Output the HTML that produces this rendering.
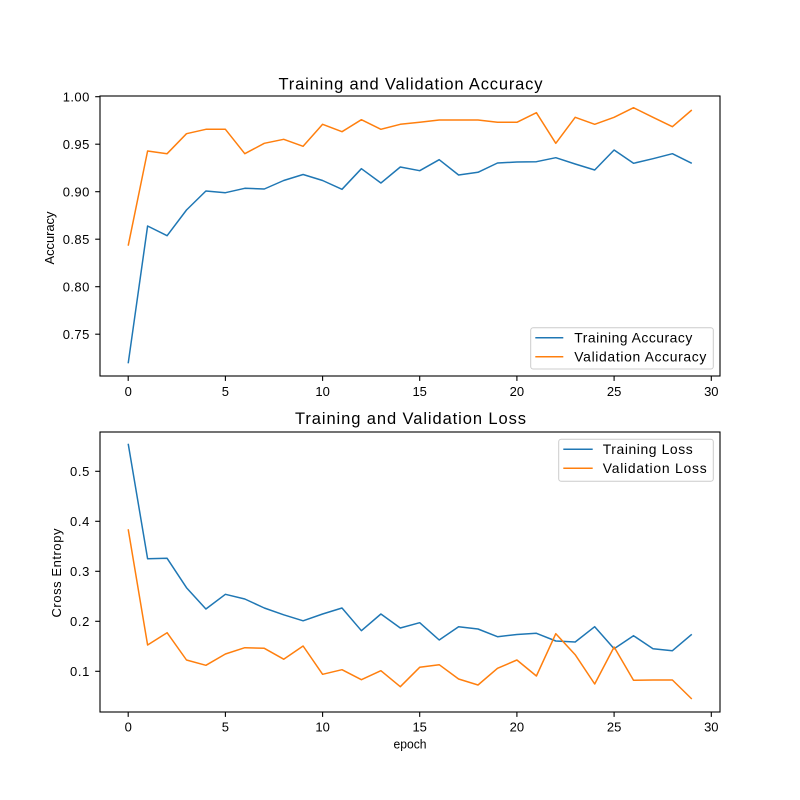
<!DOCTYPE html>
<html><head><meta charset="utf-8"><style>
html,body{margin:0;padding:0;background:#fff}
svg{display:block}
text{font-family:"Liberation Sans","WenQuanYi Zen Hei",sans-serif;fill:#000}
</style></head><body>
<svg width="800" height="800" viewBox="0 0 800 800" xmlns="http://www.w3.org/2000/svg">
<rect width="800" height="800" fill="#fff"/>

<!-- ===== Top axes ===== -->
<text x="410.5" y="89.3" font-size="16.5" text-anchor="middle" textLength="264" lengthAdjust="spacing">Training and Validation Accuracy</text>

<polyline fill="none" stroke="#1f77b4" stroke-width="1.5" stroke-linejoin="round" points="128.2,363.3 147.6,226 167.1,235.7 186.5,210 205.9,191 225.4,192.7 244.8,188.3 264.3,189 283.7,180.5 303.1,174.5 322.6,180.5 342.0,189.3 361.4,168.7 380.9,183 400.3,167 419.7,170.7 439.2,159.7 458.6,175 478.0,172.3 497.5,163 516.9,162 536.4,161.7 555.8,157.7 575.2,164 594.7,170 614.1,150 633.5,163.3 653.0,158.7 672.4,153.7 691.8,163.3"/>
<polyline fill="none" stroke="#ff7f0e" stroke-width="1.5" stroke-linejoin="round" points="128.2,245.7 147.6,151 167.1,153.7 186.5,133.7 205.9,129.3 225.4,129.3 244.8,153.7 264.3,143.3 283.7,139.3 303.1,146.3 322.6,124.3 342.0,131.7 361.4,119.7 380.9,129.3 400.3,124.3 419.7,122.3 439.2,120 458.6,120 478.0,120 497.5,122.3 516.9,122.3 536.4,112.7 555.8,143.3 575.2,117.3 594.7,124.3 614.1,117.3 633.5,107.7 653.0,117.3 672.4,126.7 691.8,110"/>

<rect x="100" y="96" width="620" height="280" fill="none" stroke="#000" stroke-width="1.1"/>

<!-- y ticks top -->
<g stroke="#000" stroke-width="1.1">
<line x1="95.2" y1="96.7" x2="100" y2="96.7"/>
<line x1="95.2" y1="144.2" x2="100" y2="144.2"/>
<line x1="95.2" y1="191.7" x2="100" y2="191.7"/>
<line x1="95.2" y1="239.2" x2="100" y2="239.2"/>
<line x1="95.2" y1="286.7" x2="100" y2="286.7"/>
<line x1="95.2" y1="334.2" x2="100" y2="334.2"/>
</g>
<g font-size="13" text-anchor="end">
<text x="89.3" y="101.5" textLength="26.6" lengthAdjust="spacing">1.00</text>
<text x="89.3" y="149" textLength="26.6" lengthAdjust="spacing">0.95</text>
<text x="89.3" y="196.5" textLength="26.6" lengthAdjust="spacing">0.90</text>
<text x="89.3" y="244" textLength="26.6" lengthAdjust="spacing">0.85</text>
<text x="89.3" y="291.5" textLength="26.6" lengthAdjust="spacing">0.80</text>
<text x="89.3" y="339" textLength="26.6" lengthAdjust="spacing">0.75</text>
</g>
<text transform="translate(54,238) rotate(-90)" font-size="13" text-anchor="middle" textLength="53" lengthAdjust="spacing">Accuracy</text>

<!-- x ticks top -->
<g stroke="#000" stroke-width="1.1">
<line x1="128.2" y1="376" x2="128.2" y2="380.9"/>
<line x1="225.4" y1="376" x2="225.4" y2="380.9"/>
<line x1="322.6" y1="376" x2="322.6" y2="380.9"/>
<line x1="419.7" y1="376" x2="419.7" y2="380.9"/>
<line x1="516.9" y1="376" x2="516.9" y2="380.9"/>
<line x1="614.1" y1="376" x2="614.1" y2="380.9"/>
<line x1="711.3" y1="376" x2="711.3" y2="380.9"/>
</g>
<g font-size="13" text-anchor="middle">
<text x="128.2" y="396">0</text>
<text x="225.4" y="396">5</text>
<text x="322.6" y="396">10</text>
<text x="419.7" y="396">15</text>
<text x="516.9" y="396">20</text>
<text x="614.1" y="396">25</text>
<text x="711.3" y="396">30</text>
</g>

<!-- legend top -->
<rect x="530.7" y="327.7" width="182.6" height="41.3" rx="2.5" ry="2.5" fill="#fff" fill-opacity="0.8" stroke="#cccccc" stroke-width="1"/>
<line x1="535.3" y1="337.7" x2="563.3" y2="337.7" stroke="#1f77b4" stroke-width="1.5"/>
<line x1="535.3" y1="356.7" x2="563.3" y2="356.7" stroke="#ff7f0e" stroke-width="1.5"/>
<g font-size="13.9">
<text x="574.3" y="342.5" textLength="118" lengthAdjust="spacing">Training Accuracy</text>
<text x="574.3" y="361.5" textLength="132" lengthAdjust="spacing">Validation Accuracy</text>
</g>

<!-- ===== Bottom axes ===== -->
<text x="410.5" y="424" font-size="16.5" text-anchor="middle" textLength="231" lengthAdjust="spacing">Training and Validation Loss</text>

<polyline fill="none" stroke="#1f77b4" stroke-width="1.5" stroke-linejoin="round" points="128.2,443.7 147.6,558.7 167.1,558.3 186.5,587.7 205.9,609 225.4,594.3 244.8,599 264.3,608 283.7,614.8 303.1,620.8 322.6,614 342.0,608 361.4,630.7 380.9,614 400.3,628 419.7,622.7 439.2,640 458.6,626.7 478.0,629 497.5,636.7 516.9,634.5 536.4,633.3 555.8,641 575.2,642 594.7,626.7 614.1,648.7 633.5,635.7 653.0,648.7 672.4,650.7 691.8,634.3"/>
<polyline fill="none" stroke="#ff7f0e" stroke-width="1.5" stroke-linejoin="round" points="128.2,529.3 147.6,645 167.1,632.7 186.5,660 205.9,665.3 225.4,654 244.8,647.7 264.3,648.3 283.7,659.2 303.1,646 322.6,674.3 342.0,669.7 361.4,679.7 380.9,670.7 400.3,686.7 419.7,667.3 439.2,664.7 458.6,679 478.0,685 497.5,668.3 516.9,660 536.4,676 555.8,633.7 575.2,654.7 594.7,684 614.1,647 633.5,680.3 653.0,680 672.4,680 691.8,699"/>

<rect x="100" y="432" width="620" height="280" fill="none" stroke="#000" stroke-width="1.1"/>

<g stroke="#000" stroke-width="1.1">
<line x1="95.2" y1="471.3" x2="100" y2="471.3"/>
<line x1="95.2" y1="521.3" x2="100" y2="521.3"/>
<line x1="95.2" y1="571.3" x2="100" y2="571.3"/>
<line x1="95.2" y1="621.3" x2="100" y2="621.3"/>
<line x1="95.2" y1="671.3" x2="100" y2="671.3"/>
</g>
<g font-size="13" text-anchor="end">
<text x="89.3" y="476" textLength="19.3" lengthAdjust="spacing">0.5</text>
<text x="89.3" y="526" textLength="19.3" lengthAdjust="spacing">0.4</text>
<text x="89.3" y="576" textLength="19.3" lengthAdjust="spacing">0.3</text>
<text x="89.3" y="626" textLength="19.3" lengthAdjust="spacing">0.2</text>
<text x="89.3" y="676" textLength="19.3" lengthAdjust="spacing">0.1</text>
</g>
<text transform="translate(61,573) rotate(-90)" font-size="13" text-anchor="middle" textLength="89" lengthAdjust="spacing">Cross Entropy</text>

<g stroke="#000" stroke-width="1.1">
<line x1="128.2" y1="712" x2="128.2" y2="716.9"/>
<line x1="225.4" y1="712" x2="225.4" y2="716.9"/>
<line x1="322.6" y1="712" x2="322.6" y2="716.9"/>
<line x1="419.7" y1="712" x2="419.7" y2="716.9"/>
<line x1="516.9" y1="712" x2="516.9" y2="716.9"/>
<line x1="614.1" y1="712" x2="614.1" y2="716.9"/>
<line x1="711.3" y1="712" x2="711.3" y2="716.9"/>
</g>
<g font-size="13" text-anchor="middle">
<text x="128.2" y="731.5">0</text>
<text x="225.4" y="731.5">5</text>
<text x="322.6" y="731.5">10</text>
<text x="419.7" y="731.5">15</text>
<text x="516.9" y="731.5">20</text>
<text x="614.1" y="731.5">25</text>
<text x="711.3" y="731.5">30</text>
</g>
<text x="410" y="748.3" font-size="13" text-anchor="middle" textLength="33" lengthAdjust="spacingAndGlyphs">epoch</text>

<!-- legend bottom -->
<rect x="558.7" y="439.3" width="154.6" height="42" rx="2.5" ry="2.5" fill="#fff" fill-opacity="0.8" stroke="#cccccc" stroke-width="1"/>
<line x1="563.3" y1="449.3" x2="592.7" y2="449.3" stroke="#1f77b4" stroke-width="1.5"/>
<line x1="563.3" y1="468.3" x2="592.7" y2="468.3" stroke="#ff7f0e" stroke-width="1.5"/>
<g font-size="13.9">
<text x="602.7" y="454" textLength="90" lengthAdjust="spacing">Training Loss</text>
<text x="602.7" y="473" textLength="104" lengthAdjust="spacing">Validation Loss</text>
</g>
</svg>
</body></html>
